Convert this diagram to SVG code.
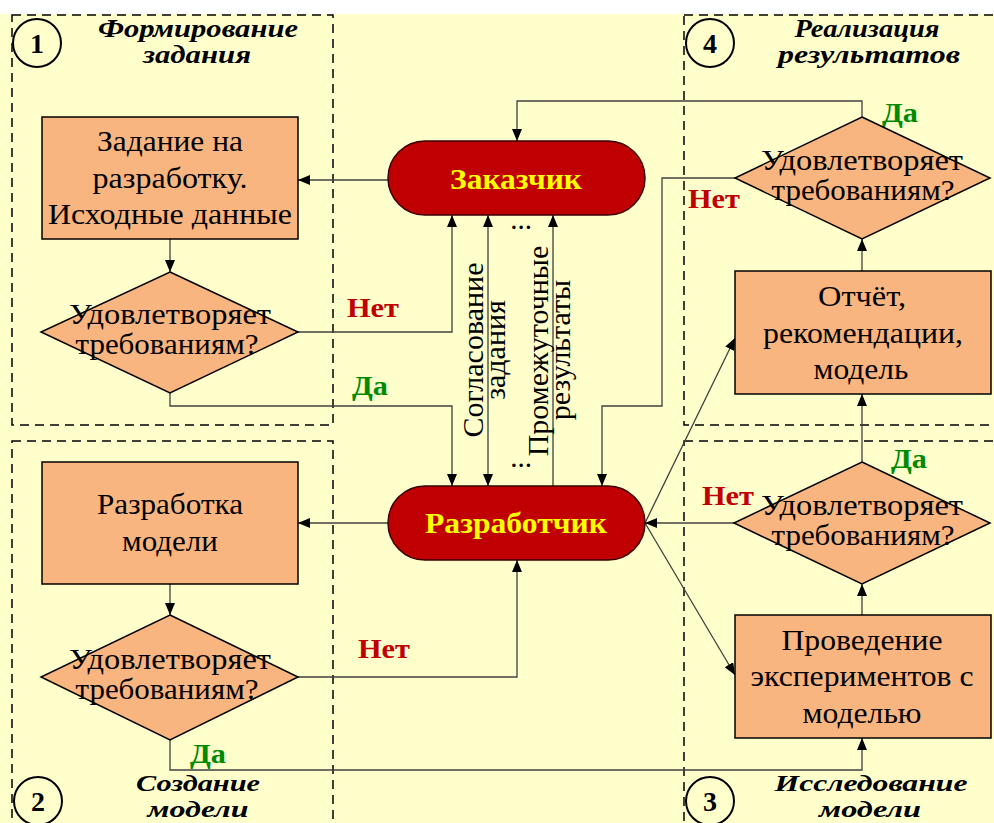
<svg xmlns="http://www.w3.org/2000/svg" width="994" height="823" viewBox="0 0 994 823">
<defs>
<marker id="ah" viewBox="0 0 12 10" refX="12" refY="5" markerWidth="12" markerHeight="10" orient="auto-start-reverse" markerUnits="userSpaceOnUse"><path d="M0,0 L12,5 L0,10 z" fill="#000"/></marker>
</defs>
<style>
text{font-family:"Liberation Serif","Times New Roman",serif;}
.zone{fill:none;stroke:#000;stroke-width:1.5;stroke-dasharray:9,6;}
.box{fill:#F8B57F;stroke:#000;stroke-width:1.5;}
.pill{fill:#C00000;stroke:#3a0000;stroke-width:1.5;}
.t{font-size:29px;text-anchor:middle;fill:#000;}
.pt{font-size:30px;font-weight:bold;text-anchor:middle;fill:#FFFF00;}
.title{font-size:25px;font-weight:bold;font-style:italic;text-anchor:middle;fill:#000;}
.btitle{font-size:24px;font-weight:bold;font-style:italic;text-anchor:middle;fill:#000;}
.num{font-size:28px;font-weight:bold;text-anchor:middle;fill:#000;}
.circ{fill:#FFFFCC;stroke:#000;stroke-width:2;}
.no{font-size:28px;font-weight:bold;fill:#C00000;}
.yes{font-size:28px;font-weight:bold;fill:#008A00;}
.ca{fill:none;stroke:#404040;stroke-width:1.3;marker-end:url(#ah);}
.vt{font-size:30px;text-anchor:middle;fill:#000;}
</style>
<rect x="0" y="0" width="994" height="823" fill="#FFFFFF"/>
<rect x="0" y="14" width="994" height="809" fill="#FFFFCC"/>
<g id="zones">
<rect class="zone" x="12" y="15" width="321" height="410"/>
<rect class="zone" x="684" y="15" width="330" height="410"/>
<rect class="zone" x="12" y="441" width="321" height="400"/>
<rect class="zone" x="684" y="441" width="330" height="400"/>
</g>
<g id="zone-titles">
<circle class="circ" cx="37" cy="43" r="24"/><text class="num" x="37" y="53">1</text>
<text class="title" x="198" y="37" textLength="200" lengthAdjust="spacingAndGlyphs">Формирование</text><text class="title" x="197" y="63" textLength="108" lengthAdjust="spacingAndGlyphs">задания</text>
<circle class="circ" cx="710" cy="43" r="24"/><text class="num" x="710" y="53">4</text>
<text class="title" x="867" y="37" textLength="145" lengthAdjust="spacingAndGlyphs">Реализация</text><text class="title" x="869" y="63" textLength="182" lengthAdjust="spacingAndGlyphs">результатов</text>
<circle class="circ" cx="38" cy="801" r="24"/><text class="num" x="38" y="811">2</text>
<text class="btitle" x="198" y="791" textLength="124" lengthAdjust="spacingAndGlyphs">Создание</text><text class="btitle" x="198" y="817" textLength="101" lengthAdjust="spacingAndGlyphs">модели</text>
<circle class="circ" cx="710" cy="801" r="24"/><text class="num" x="710" y="811">3</text>
<text class="btitle" x="871" y="791" textLength="193" lengthAdjust="spacingAndGlyphs">Исследование</text><text class="btitle" x="870" y="817" textLength="102" lengthAdjust="spacingAndGlyphs">модели</text>
</g>
<g id="connectors">
<path class="ca" d="M388,180 H298"/>
<path class="ca" d="M170,239 V272"/>
<path class="ca" d="M298,332 H452 V215"/>
<path class="ca" d="M170,393 V406 H452 V486"/>
<path class="ca" d="M488,486 V215" marker-start="url(#ah)"/>
<path class="ca" d="M553,486 V215"/>
<path class="ca" d="M862,117 V101 H517 V141"/>
<path class="ca" d="M735,178 H662 V406 H602 V486"/>
<path class="ca" d="M388,523 H298"/>
<path class="ca" d="M170,584 V615"/>
<path class="ca" d="M298,677 H517 V560"/>
<path class="ca" d="M170,740 V770 H862 V738"/>
<path class="ca" d="M645,523 L735,338"/>
<path class="ca" d="M645,523 L735,675"/>
<path class="ca" d="M734,523 H645"/>
<path class="ca" d="M862,615 V584"/>
<path class="ca" d="M862,462 V394"/>
<path class="ca" d="M862,271 V239"/>
</g>
<g id="labels">
<text class="no" x="347" y="317" textLength="52" lengthAdjust="spacingAndGlyphs">Нет</text>
<text class="yes" x="352" y="395" textLength="36" lengthAdjust="spacingAndGlyphs">Да</text>
<text class="no" x="358" y="658" textLength="52" lengthAdjust="spacingAndGlyphs">Нет</text>
<text class="yes" x="190" y="763" textLength="36" lengthAdjust="spacingAndGlyphs">Да</text>
<text class="no" x="688" y="208" textLength="52" lengthAdjust="spacingAndGlyphs">Нет</text>
<text class="yes" x="882" y="122" textLength="36" lengthAdjust="spacingAndGlyphs">Да</text>
<text class="no" x="702" y="505" textLength="52" lengthAdjust="spacingAndGlyphs">Нет</text>
<text class="yes" x="891" y="468" textLength="36" lengthAdjust="spacingAndGlyphs">Да</text>
<text class="vt" transform="translate(483,350) rotate(-90)">Согласование</text>
<text class="vt" transform="translate(505,350) rotate(-90)">задания</text>
<text class="vt" transform="translate(548,351) rotate(-90)">Промежуточные</text>
<text class="vt" transform="translate(570,350) rotate(-90)">результаты</text>
<text class="t" x="521" y="229">...</text>
<text class="t" x="521" y="467">...</text>
</g>
<g id="zakazchik">
<rect class="pill" x="388" y="141" width="257" height="74" rx="37"/>
<text class="pt" x="516" y="189" textLength="132" lengthAdjust="spacingAndGlyphs">Заказчик</text>
</g>
<g id="razrabotchik">
<rect class="pill" x="388" y="486" width="257" height="74" rx="37"/>
<text class="pt" x="516" y="533" textLength="182" lengthAdjust="spacingAndGlyphs">Разработчик</text>
</g>
<g id="zadanie">
<rect class="box" x="42" y="117" width="256" height="122"/>
<text class="t" x="170" y="151" textLength="146" lengthAdjust="spacingAndGlyphs">Задание на</text>
<text class="t" x="170" y="188" textLength="155" lengthAdjust="spacingAndGlyphs">разработку.</text>
<text class="t" x="170" y="224" textLength="244" lengthAdjust="spacingAndGlyphs">Исходные данные</text>
</g>
<g id="check1">
<polygon class="box" points="170,272 298,332 170,393 41,332"/>
<text class="t" x="170" y="324" textLength="202" lengthAdjust="spacingAndGlyphs">Удовлетворяет</text>
<text class="t" x="167" y="354" textLength="183" lengthAdjust="spacingAndGlyphs">требованиям?</text>
</g>
<g id="razrabotka">
<rect class="box" x="42" y="462" width="256" height="122"/>
<text class="t" x="170" y="514" textLength="146" lengthAdjust="spacingAndGlyphs">Разработка</text>
<text class="t" x="170" y="551" textLength="96" lengthAdjust="spacingAndGlyphs">модели</text>
</g>
<g id="check2">
<polygon class="box" points="170,615 298,677 170,740 41,677"/>
<text class="t" x="170" y="669" textLength="202" lengthAdjust="spacingAndGlyphs">Удовлетворяет</text>
<text class="t" x="167" y="699" textLength="183" lengthAdjust="spacingAndGlyphs">требованиям?</text>
</g>
<g id="check4">
<polygon class="box" points="862,117 990,178 862,239 735,178"/>
<text class="t" x="862" y="170" textLength="202" lengthAdjust="spacingAndGlyphs">Удовлетворяет</text>
<text class="t" x="863" y="200" textLength="183" lengthAdjust="spacingAndGlyphs">требованиям?</text>
</g>
<g id="otchet">
<rect class="box" x="735" y="271" width="256" height="123"/>
<text class="t" x="862" y="306" textLength="88" lengthAdjust="spacingAndGlyphs">Отчёт,</text>
<text class="t" x="863" y="343" textLength="200" lengthAdjust="spacingAndGlyphs">рекомендации,</text>
<text class="t" x="861" y="379" textLength="95" lengthAdjust="spacingAndGlyphs">модель</text>
</g>
<g id="check3">
<polygon class="box" points="862,462 990,523 862,584 734,523"/>
<text class="t" x="862" y="515" textLength="202" lengthAdjust="spacingAndGlyphs">Удовлетворяет</text>
<text class="t" x="863" y="545" textLength="183" lengthAdjust="spacingAndGlyphs">требованиям?</text>
</g>
<g id="experiment">
<rect class="box" x="735" y="615" width="256" height="123"/>
<text class="t" x="862" y="650" textLength="161" lengthAdjust="spacingAndGlyphs">Проведение</text>
<text class="t" x="862" y="686" textLength="223" lengthAdjust="spacingAndGlyphs">экспериментов с</text>
<text class="t" x="862" y="723" textLength="119" lengthAdjust="spacingAndGlyphs">моделью</text>
</g>
</svg>
